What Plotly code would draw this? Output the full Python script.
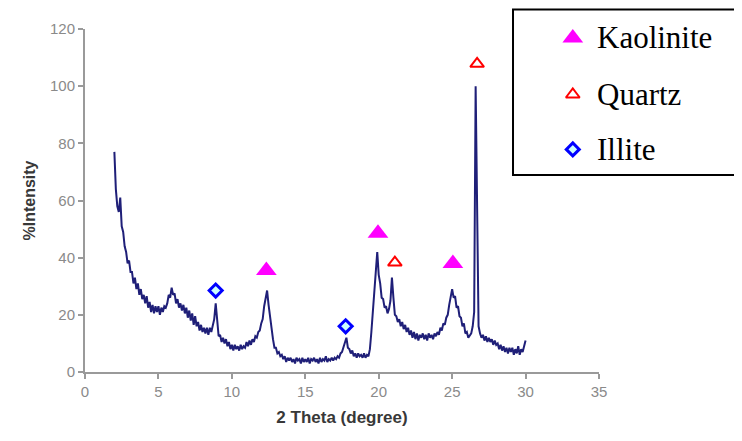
import plotly.graph_objects as go

# ---------------- data ----------------
theta_start = 2.0
theta_step = 0.1
intensity = [
    77, 64, 58, 56, 61, 51, 49, 44, 42, 38,            # 2.0-2.9
    39, 35, 35, 31, 33, 29, 31, 27, 29, 25.5,          # 3.0-3.9
    27, 24, 26.5, 22.5, 24.5, 21, 23.5, 20.5, 23, 21,  # 4.0-4.9
    23, 20, 22.5, 21, 23, 22.5, 24, 27, 26, 29.5,      # 5.0-5.9
    27, 27.5, 24, 25.5, 22.5, 24, 21.5, 23.5, 20.5, 22.5,  # 6
    19, 21.5, 18, 20.5, 16.5, 19.5, 16, 17.5, 14.5, 16.5,  # 7
    14, 15.5, 13.5, 15.5, 13, 15.5, 14, 16.5, 18.5, 24,    # 8
    16.5, 12.5, 13, 10.5, 12, 10, 11.5, 9, 10.5, 8,        # 9
    9.5, 7.5, 9.5, 8, 9, 7.5, 9.5, 8, 9, 8.5,              # 10
    10.5, 9, 11, 9.5, 11.5, 10.5, 12.5, 12, 14, 14.5,      # 11
    17, 18.5, 23, 26.5, 28.5, 23.5, 19.5, 13.5, 11.5, 8.5, # 12
    8.5, 6.5, 7, 5.5, 6, 4.5, 5.5, 3.5, 5, 4,              # 13
    5, 3.5, 4.5, 3, 5, 4, 4.5, 3, 5, 3.5,                  # 14
    4.5, 3.5, 5, 3, 4.5, 4, 5, 3.5, 4.5, 3,                # 15
    5, 3.5, 4.5, 4, 5.5, 3.5, 4.5, 4, 5, 4,                # 16
    5, 4.5, 5.5, 5, 6.5, 7, 9, 10, 12, 8.5,                # 17
    8, 6.5, 7.5, 5.5, 6.5, 5, 6.5, 5.5, 6, 5,              # 18
    6.5, 5, 6, 5.5, 8, 14, 21, 28, 36, 42,                 # 19
    34, 31, 26, 25.5, 22.5, 23, 20.5, 22, 25, 33,          # 20
    26, 20, 19.5, 17.5, 18.5, 16, 17.5, 15, 16.5, 14,      # 21
    15.5, 13, 14.5, 12, 14, 11.5, 13.5, 11, 13, 12,        # 22
    13.5, 11.5, 13, 11, 13.5, 12, 13, 11.5, 13.5, 12.5,    # 23
    14, 13, 15.5, 14.5, 17, 16.5, 19, 20, 23.5, 27,        # 24
    29, 26, 26.5, 22.5, 23, 19.5, 19, 16, 17, 13.5,        # 25
    14, 12, 13, 13.5, 16, 21, 100, 49, 16, 13.5,           # 26
    12, 13, 11, 12.5, 10.5, 12, 10.5, 11.5, 9.5, 11,       # 27
    9.5, 10, 8, 9.5, 7.5, 9, 7, 8.5, 6.5, 8.5,             # 28
    7, 8.5, 6, 8, 6.5, 9, 6, 8, 7, 9,                      # 29
    11,                                                    # 30.0
]
theta = [round(theta_start + i * theta_step, 2) for i in range(len(intensity))]

kaolinite_x = [12.35, 19.95, 25.05]
kaolinite_y = [35.5, 48.5, 38]
quartz_x = [21.1, 26.7]
quartz_y = [38.3, 107.8]
illite_x = [8.9, 17.75]
illite_y = [28.5, 16]

x_ticks = [0, 5, 10, 15, 20, 25, 30, 35]
y_ticks = [0, 20, 40, 60, 80, 100, 120]

legend_names = ["Kaolinite", "Quartz", "Illite"]

# ---------------- figure ----------------
fig = go.Figure()

fig.add_trace(go.Scatter(
    x=theta, y=intensity, mode="lines",
    line=dict(color="#1f1f78", width=2),
    showlegend=False, hoverinfo="skip",
))

kao_marker = dict(symbol="triangle-up", size=18, color="#ff00ff")
qtz_marker = dict(symbol="triangle-up-open", size=12, color="#ff0000",
                  line=dict(color="#ff0000", width=2))
ill_marker = dict(symbol="diamond", size=10, color="#ccffff",
                  line=dict(color="#0000ff", width=3))

fig.add_trace(go.Scatter(x=kaolinite_x, y=kaolinite_y, mode="markers",
                         marker=kao_marker, showlegend=False, cliponaxis=False))
fig.add_trace(go.Scatter(x=quartz_x, y=quartz_y, mode="markers",
                         marker=qtz_marker, showlegend=False, cliponaxis=False))
fig.add_trace(go.Scatter(x=illite_x, y=illite_y, mode="markers",
                         marker=ill_marker, showlegend=False, cliponaxis=False))

# ---- manual legend (overlay axes in plot-fraction units) ----
leg_y = [0.974, 0.809, 0.649]
leg_mx = 0.949
for name, mk, yy in zip(legend_names, [kao_marker, qtz_marker, ill_marker], leg_y):
    fig.add_trace(go.Scatter(x=[leg_mx], y=[yy], mode="markers", marker=mk,
                             xaxis="x2", yaxis="y2", showlegend=False,
                             cliponaxis=False, hoverinfo="skip"))
    fig.add_annotation(x=0.993, y=yy, xref="paper", yref="paper",
                       text=name, showarrow=False, xanchor="left", yanchor="middle",
                       font=dict(family="Liberation Serif", size=31, color="#000"))

fig.add_shape(type="rect", xref="paper", yref="paper",
              x0=0.8327, x1=1.274, y0=0.574, y1=1.057,
              line=dict(color="#000", width=2), fillcolor="white", layer="below")

axis_font = dict(family="Liberation Sans", size=15, color="#8a8a8a")

fig.update_layout(
    width=734, height=433,
    margin=dict(l=77, r=143, t=19, b=69),
    paper_bgcolor="white", plot_bgcolor="rgba(0,0,0,0)",
    showlegend=False,
    xaxis=dict(range=[0, 35], tickvals=x_ticks, showgrid=False, zeroline=False,
               showline=True, linecolor="#9a9a9a", linewidth=2,
               ticks="outside", ticklen=5, tickcolor="#9a9a9a", tickwidth=1.5,
               tickfont=axis_font,
               title=dict(text="<b>2 Theta (degree)</b>", standoff=12,
                          font=dict(family="Liberation Sans", size=17, color="#383838"))),
    yaxis=dict(range=[0, 120], tickvals=y_ticks, showgrid=False, zeroline=False,
               showline=True, linecolor="#9a9a9a", linewidth=2,
               ticks="outside", ticklen=5, tickcolor="#9a9a9a", tickwidth=1.5,
               tickfont=axis_font,
               title=dict(text="<b>%Intensity</b>", standoff=10,
                          font=dict(family="Liberation Sans", size=16, color="#383838"))),
    xaxis2=dict(range=[0, 1], overlaying="x", visible=False, fixedrange=True),
    yaxis2=dict(range=[0, 1], overlaying="y", visible=False, fixedrange=True),
)

fig.write_html("out.html")
